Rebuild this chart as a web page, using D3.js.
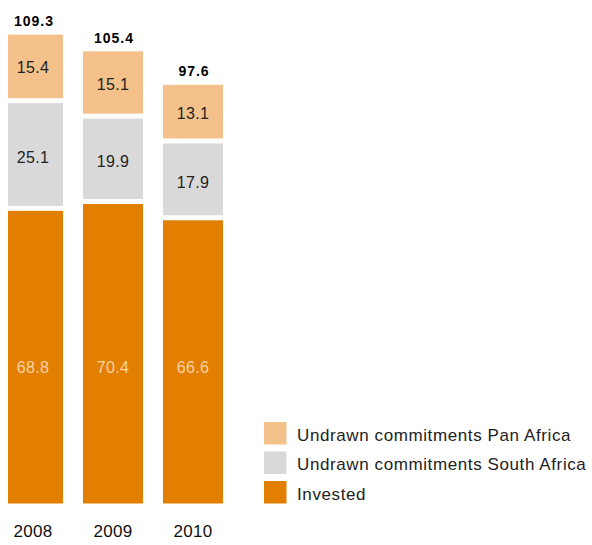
<!DOCTYPE html>
<html>
<head>
<meta charset="utf-8">
<script src="https://cdn.jsdelivr.net/npm/d3@7"></script>
<style>
  html, body { margin: 0; padding: 0; background: #fff; }
  svg { display: block; font-family: "Liberation Sans", Arial, sans-serif; }
</style>
</head>
<body>
<svg id="chart" width="592" height="545"></svg>
<script>
// Portfolio composition by year (R billions)
const years = ["2008", "2009", "2010"];
const invested = [68.8, 70.4, 66.6];
const undrawnSouthAfrica = [25.1, 19.9, 17.9];
const undrawnPanAfrica = [15.4, 15.1, 13.1];
const totals = [109.3, 105.4, 97.6];

const seriesNames = ["Invested", "Undrawn commitments South Africa", "Undrawn commitments Pan Africa"];
const seriesColors = ["#e27f00", "#d9d9d9", "#f4c18b"];
const labelColors = ["#f9d3a6", "#222222", "#222222"];

const rows = years.map((y, i) => ({
  year: y,
  "Invested": invested[i],
  "Undrawn commitments South Africa": undrawnSouthAfrica[i],
  "Undrawn commitments Pan Africa": undrawnPanAfrica[i],
  total: totals[i]
}));

const svg = d3.select("#chart");

const x = d3.scaleBand()
  .domain(years)
  .range([-7, 233])
  .paddingInner(0.25)
  .paddingOuter(0.125);

const baseY = 503.5;
const y = d3.scaleLinear()
  .domain([0, 110])
  .range([baseY, baseY - 110 * 4.29]);

const stack = d3.stack().keys(seriesNames);
const layers = stack(rows);

// plot area is cut off at the left edge
svg.append("defs").append("clipPath").attr("id", "plotClip")
  .append("rect").attr("x", 8).attr("y", 0).attr("width", 584).attr("height", 545);

const plot = svg.append("g").attr("clip-path", "url(#plotClip)");
const gap = 2.5;

// label baseline inside each segment: invested values share one line,
// the upper segments are centred in their block
const labelY = (d, li) => {
  if (li === 0) return 372.5;
  const mid = (y(d[0]) + y(d[1])) / 2;
  return mid + 5.8 + (li === 1 ? 2.5 : 0);
};

layers.forEach((layer, li) => {
  const g = plot.append("g");
  g.selectAll("rect")
    .data(layer)
    .join("rect")
    .attr("x", d => x(d.data.year))
    .attr("width", x.bandwidth())
    .attr("y", d => y(d[1]) + (li < layers.length - 1 ? gap : 0))
    .attr("height", d => {
      const top = y(d[1]) + (li < layers.length - 1 ? gap : 0);
      const bottom = y(d[0]) - (li > 0 ? gap : 0);
      return bottom - top;
    })
    .attr("fill", seriesColors[li]);

  g.selectAll("text")
    .data(layer)
    .join("text")
    .attr("x", d => x(d.data.year) + x.bandwidth() / 2)
    .attr("y", d => labelY(d, li))
    .attr("text-anchor", "middle")
    .attr("font-size", 16)
    .attr("letter-spacing", 0.4)
    .attr("fill", labelColors[li])
    .text(d => (d[1] - d[0]).toFixed(1));
});

// totals above each bar
svg.append("g").selectAll("text")
  .data(rows)
  .join("text")
  .attr("x", d => x(d.year) + x.bandwidth() / 2 + 1)
  .attr("y", d => y(d.total) - 8.5)
  .attr("text-anchor", "middle")
  .attr("font-size", 14)
  .attr("font-weight", "bold")
  .attr("letter-spacing", 1)
  .attr("fill", "#000")
  .text(d => d.total.toFixed(1));

// year labels
svg.append("g").selectAll("text")
  .data(years)
  .join("text")
  .attr("x", d => x(d) + x.bandwidth() / 2)
  .attr("y", 537.3)
  .attr("text-anchor", "middle")
  .attr("font-size", 17)
  .attr("letter-spacing", 0.3)
  .attr("fill", "#111")
  .text(d => d);

// legend
const legendItems = [
  { name: seriesNames[2], color: seriesColors[2] },
  { name: seriesNames[1], color: seriesColors[1] },
  { name: seriesNames[0], color: seriesColors[0] }
];
const legend = svg.append("g").attr("transform", "translate(264,422)");
const item = legend.selectAll("g")
  .data(legendItems)
  .join("g")
  .attr("transform", (d, i) => `translate(0,${i * 29.5})`);
item.append("rect")
  .attr("width", 22.5)
  .attr("height", 22.5)
  .attr("fill", d => d.color);
item.append("text")
  .attr("x", 33)
  .attr("y", 18.5)
  .attr("font-size", 17)
  .attr("letter-spacing", 0.6)
  .attr("fill", "#222")
  .text(d => d.name);
</script>
</body>
</html>
